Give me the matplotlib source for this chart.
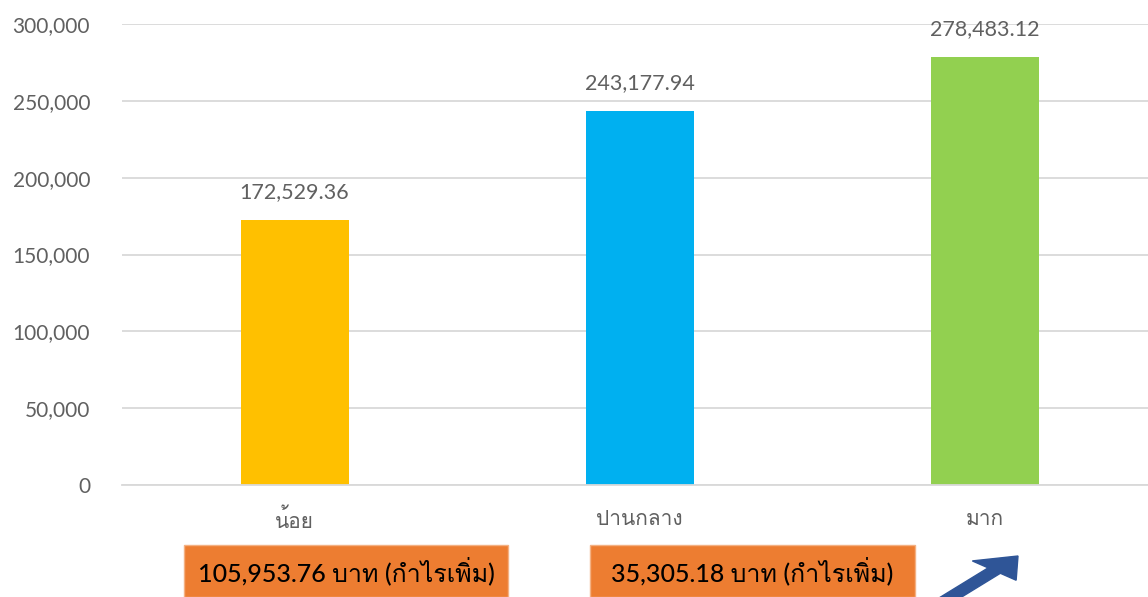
import matplotlib
matplotlib.use('Agg')
import matplotlib.pyplot as plt
from matplotlib import font_manager
from matplotlib.ft2font import FT2Font
from matplotlib.patches import Rectangle, FancyArrow

categories = ['น้อย', 'ปานกลาง', 'มาก']
values = [172529.36, 243177.94, 278483.12]
bar_colors = ['#FFC000', '#00B0F0', '#92D050']
box_texts = ['105,953.76 บาท (กำไรเพิ่ม)', '35,305.18 บาท (กำไรเพิ่ม)']


def thai_families():
    # look for any installed font that has Thai glyphs
    found = []
    for f in font_manager.fontManager.ttflist:
        try:
            cmap = FT2Font(f.fname).get_charmap()
        except Exception:
            continue
        if 0x0E01 in cmap and 0x0E32 in cmap and f.name not in found:
            found.append(f.name)
    return found


fams = ['Lato'] + thai_families() + ['DejaVu Sans']
plt.rcParams['font.family'] = fams

fig = plt.figure(figsize=(11.48, 5.97), dpi=100)
ax = fig.add_axes([122 / 1148, 0.1876, (1157.5 - 122) / 1148, 0.7722])

x = range(len(categories))
bars = ax.bar(x, values, width=0.313, color=bar_colors, zorder=3)

for b, v in zip(bars, values):
    ax.annotate(f'{v:,.2f}', (b.get_x() + b.get_width() / 2, v),
                xytext=(0, 13), textcoords='offset points',
                ha='center', va='bottom', fontsize=15.5, color='#606060')

ax.set_xlim(-0.5, 2.5)
ax.set_ylim(0, 300000)
ax.set_yticks(range(0, 300001, 50000))
ax.set_yticklabels([f'{t:,}' for t in range(0, 300001, 50000)])
ax.set_xticks(list(x))
ax.set_xticklabels(categories)
ax.tick_params(axis='y', length=0, pad=23, labelsize=15, labelcolor='#606060')
ax.tick_params(axis='x', length=0, pad=17, labelsize=15, labelcolor='#606060')
ax.grid(axis='y', color='#D9D9D9', linewidth=1.3, zorder=0)
for s in ['left', 'right', 'top']:
    ax.spines[s].set_visible(False)
ax.spines['bottom'].set_color('#D9D9D9')
ax.spines['bottom'].set_linewidth(1.3)
ax.spines['bottom'].set_zorder(4)

W, H = 1148, 597
boxes = [(184, 508), (590, 915)]
for (x0, x1), txt in zip(boxes, box_texts):
    fig.add_artist(Rectangle((x0 / W, 0), (x1 - x0) / W, (597 - 545) / H,
                             transform=fig.transFigure, facecolor='#ED7D31',
                             edgecolor='#F4B183', linewidth=1))
    fig.text((x0 + x1) / 2 / W, (597 - 571) / H, txt, ha='center', va='center',
             fontsize=18, color='black', fontweight='medium')

fig.add_artist(FancyArrow(943 / W, (597 - 602) / H, 75 / W, 46 / H,
                          width=0.014, head_width=0.05, head_length=0.032,
                          length_includes_head=True, transform=fig.transFigure,
                          color='#2F5597'))

plt.savefig('out.png', dpi=100)
